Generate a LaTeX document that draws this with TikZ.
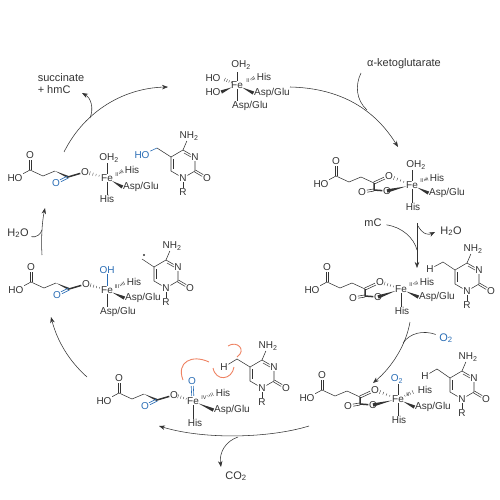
\documentclass[tikz,border=0pt]{standalone}
\usepackage{fontspec}
\setmainfont{Liberation Sans}
\usetikzlibrary{arrows.meta,calc}
\definecolor{ink}{HTML}{333333}
\definecolor{oxo}{HTML}{2A6DB5}
\definecolor{push}{HTML}{EE8262}
\tikzset{
  atom/.style={inner sep=0.6pt,text=ink,font=\fontsize{10}{10}\selectfont},
  blueatom/.style={atom,text=oxo},
  lbl/.style={inner sep=0.6pt,text=ink,font=\fontsize{11}{11}\selectfont},
  ox/.style={inner sep=0pt,text=ink,font=\fontsize{5.5}{5.5}\selectfont},
  bnd/.style={draw=ink,line width=0.55pt},
  bluebnd/.style={draw=oxo,line width=0.6pt},
  hash/.style={draw=ink,line width=0.35pt},
  bold/.style={draw=ink,line width=1.5pt},
  fl/.style={-{Stealth[length=6pt,width=4.5pt]},draw=ink,line width=0.55pt},
  br/.style={draw=ink,line width=0.55pt},
  pushfl/.style={draw=push,line width=0.9pt},
}
\newcommand{\hashb}[2]{%
  \foreach \t in {0.36,0.5,0.64,0.78}{
    \pgfmathsetmacro\hw{\t*2.4}
    \draw[hash] ($(#1)!\t!(#2)!\hw pt!90:(#2)$) -- ($(#1)!\t!(#2)!\hw pt!-90:(#2)$);
  }}
\newcommand{\wedgeb}[2]{\fill[ink] ($(#1)!6pt!(#2)$) -- ($(#2)!1.7pt!90:(#1)$) -- ($(#2)!1.7pt!-90:(#1)$) -- cycle;}
% C=O, the far end sits in an atom label
\newcommand{\dblb}[3][bnd]{%
  \draw[#1,shorten >=5pt] ($(#2)!1.05pt!90:(#3)$) -- ($(#3)!1.05pt!-90:(#2)$);
  \draw[#1,shorten >=5pt] ($(#2)!1.05pt!-90:(#3)$) -- ($(#3)!1.05pt!90:(#2)$);}
\newcommand{\succarm}[2]{%
  \begin{scope}[shift={(#2)}]
    \node[atom] (#1ho) at (-15,8) {HO};
    \node[atom] (#1oa) at (0,-15) {O};
    \coordinate (#1ca) at (0,0);
    \coordinate (#1cb) at (13,6);
    \coordinate (#1cc) at (25,1);
    \coordinate (#1cd) at (38,7);
    \draw[bnd] (#1ho)--(#1ca)--(#1cb)--(#1cc);
    \dblb{#1ca}{#1oa}
  \end{scope}}
% keto end, blue C=O
\newcommand{\ketoend}[2]{%
  \begin{scope}[shift={(#2)}]
    \node[blueatom] (#1ok) at (26,13) {O};
    \node[atom] (#1ob) at (55,2) {O};
    \fill[ink] (#1cc) -- ($(#1cd)!1.1pt!90:(#1cc)$) -- ($(#1cd)!1.1pt!-90:(#1cc)$) -- cycle;
    \draw[bold] (#1cd)--(#1ob);
    \dblb[bluebnd]{#1cd}{#1ok}
  \end{scope}}
% chelating carboxylate end
\newcommand{\chelend}[2]{%
  \begin{scope}[shift={(#2)}]
    \node[atom] (#1ob) at (53,0) {O};
    \coordinate (#1ce) at (38,14);
    \node[atom] (#1ox) at (26,16) {O};
    \node[atom] (#1oc) at (51,15) {O};
    \draw[bnd] (#1cc)--(#1cd);
    \dblb{#1cd}{#1ob}
    \draw[bold] (#1cd)--(#1ce)--(#1oc);
    \dblb{#1ce}{#1ox}
  \end{scope}}
\newcommand{\cytosine}[2]{%
  \begin{scope}[shift={(#2)}]
    \coordinate (#1cv) at (0,0);
    \coordinate (#1cs) at (0,14);
    \node[atom] (#1na) at (12,21) {N};
    \coordinate (#1cw) at (24,14);
    \node[atom] (#1oy) at (36,21) {O};
    \node[atom] (#1nb) at (24,0) {N};
    \coordinate (#1cu) at (12,-7);
    \node[atom] (#1nh) at (18,-21) {NH\textsubscript{2}};
    \node[atom] (#1rr) at (12,35) {R};
    \draw[bnd] (#1cv)--(#1cs)--(#1na)--(#1cw)--(#1nb)--(#1cu)--(#1cv);
    \draw[bnd] (#1na)--(#1rr);
    \draw[bnd] (#1cu)--(#1nh);
    \dblb{#1cw}{#1oy}
    \draw[bnd] (2,2)--(2,12);
    \draw[bnd] (13,-4)--(20,0);
  \end{scope}}
\begin{document}
\begin{tikzpicture}[x=1pt,y=-1pt]
\useasboundingbox (0,0) rectangle (500,500);
% top
\node[atom] (afe) at (237,85) {Fe};
\node[ox] (aox) at (248,81) {II};
\node[atom] (aow) at (241,65) {OH\textsubscript{2}};
\node[atom] (aho) at (213,78) {HO};
\node[atom] (ahp) at (213,92) {HO};
\node[atom] (ahis) at (264,77) {His};
\node[atom] (aag) at (272,93) {Asp/Glu};
\node[atom] (aah) at (250,106) {Asp/Glu};
\draw[bnd] (afe)--(237,72);
\draw[bnd] (afe)--(aah.north-|afe);
\hashb{afe}{aho.east}
\wedgeb{afe}{ahp.east}
\hashb{aox}{ahis.west}
\wedgeb{afe}{aag.west}
% top right
\succarm{b}{336,176}
\chelend{b}{336,176}
\node[atom] (bfe) at (412,185) {Fe};
\node[ox] (box) at (422,181) {II};
\node[atom] (bow) at (416,165) {OH\textsubscript{2}};
\node[atom] (bhis) at (437,178) {His};
\node[atom] (bag) at (447,193) {Asp/Glu};
\node[atom] (bhi) at (413,207) {His};
\draw[bnd] (bfe)--(bfe|-bow.south);
\draw[bnd] (bfe)--(bfe|-bhi.north);
\hashb{bfe}{bob}
\wedgeb{bfe}{boc}
\hashb{box}{bhis.west}
\wedgeb{bfe}{bag.west}
% middle right
\succarm{c}{327,282}
\chelend{c}{327,282}
\node[atom] (cfe) at (401,289) {Fe};
\node[ox] (cox) at (411,285) {II};
\node[atom] (chis) at (427,282) {His};
\node[atom] (cag) at (437,297) {Asp/Glu};
\node[atom] (chi) at (402,311) {His};
\draw[bnd] (cfe)--(cfe|-chi.north);
\hashb{cfe}{cob}
\wedgeb{cfe}{coc}
\hashb{cox}{chis.west}
\wedgeb{cfe}{cag.west}
\cytosine{c}{455,270}
\node[atom] (chh) at (430,269) {H};
\coordinate (cch) at (443,262);
\draw[bnd] (chh)--(cch)--(ccv);
% lower right
\succarm{d}{322,390}
\chelend{d}{322,390}
\node[atom] (dfe) at (398,399) {Fe};
\node[ox] (dox) at (408,395) {II};
\node[blueatom] (dod) at (397,379) {O\textsubscript{2}};
\node[atom] (dhis) at (425,390) {His};
\node[atom] (dag) at (433,407) {Asp/Glu};
\node[atom] (dhi) at (399,420) {His};
\draw[bnd] (dfe)--(dfe|-dod.south);
\draw[bnd] (dfe)--(dfe|-dhi.north);
\hashb{dfe}{dob}
\wedgeb{dfe}{doc}
\hashb{dfe}{dhis.west}
\wedgeb{dfe}{dag.west}
\cytosine{d}{450,378}
\node[atom] (dhh) at (425,376) {H};
\coordinate (dch) at (437,369);
\draw[bnd] (dhh)--(dch)--(dcv);
% bottom
\succarm{e}{119,393}
\ketoend{e}{119,393}
\node[atom] (efe) at (193,401) {Fe};
\node[ox] (eox) at (204,398) {IV};
\node[blueatom] (eod) at (192,381) {O};
\node[atom] (ehis) at (223,393) {His};
\node[atom] (eag) at (232,410) {Asp/Glu};
\node[atom] (ehi) at (195,423) {His};
\dblb[bluebnd,shorten <=5pt]{efe}{eod}
\draw[bnd] (efe)--(efe|-ehi.north);
\hashb{efe}{eob}
\hashb{eox}{ehis.west}
\wedgeb{efe}{eag.west}
\cytosine{e}{250,367}
\node[atom] (ehh) at (224,367) {H};
\coordinate (ech) at (237,359);
\draw[bnd] (ehh)--(ech)--(ecv);
\coordinate (pa) at (183,380);
\coordinate (pb) at (209,362);
\coordinate (pc) at (213,368);
\coordinate (pd) at (234,367);
\coordinate (pe) at (228,346);
\coordinate (pf) at (237,357);
\draw[pushfl] (pa) .. controls (176,362) and (192,354) .. (pb);
\draw[pushfl] (pc) .. controls (216,382) and (232,380) .. (pd);
\draw[pushfl] (pe) .. controls (237,340) and (247,350) .. (pf);
% middle left
\succarm{f}{31,282}
\ketoend{f}{31,282}
\node[atom] (ffe) at (107,290) {Fe};
\node[ox] (fox) at (117,287) {III};
\node[blueatom] (fod) at (107,270) {OH};
\node[atom] (fhis) at (134,282) {His};
\node[atom] (fag) at (143,298) {Asp/Glu};
\node[atom] (fah) at (118,312) {Asp/Glu};
\draw[bluebnd] (ffe)--(ffe|-fod.south);
\draw[bnd] (ffe)--(ffe|-fah.north);
\hashb{ffe}{fob}
\hashb{fox}{fhis.west}
\wedgeb{ffe}{fag.west}
\cytosine{f}{154,267}
\node[circle,fill=ink,inner sep=0pt,minimum size=2.4pt] (fdot) at (144,255) {};
\coordinate (fch) at (142,259);
\draw[bnd] (fch)--(fcv);
% upper left
\succarm{g}{30,170}
\ketoend{g}{30,170}
\node[atom] (gfe) at (107,178) {Fe};
\node[ox] (gox) at (117,175) {II};
\node[atom] (gow) at (109,158) {OH\textsubscript{2}};
\node[atom] (ghis) at (132,170) {His};
\node[atom] (gag) at (141,187) {Asp/Glu};
\node[atom] (ghi) at (107,199) {His};
\draw[bnd] (gfe)--(gfe|-gow.south);
\draw[bnd] (gfe)--(gfe|-ghi.north);
\hashb{gfe}{gob}
\hashb{gox}{ghis.west}
\wedgeb{gfe}{gag.west}
\cytosine{g}{171,157}
\node[blueatom] (gho) at (142,155) {HO};
\coordinate (gch) at (157,148);
\draw[bluebnd] (gho)--(gch);
\draw[bnd] (gch)--(gcv);
% labels
\node[lbl,align=left] (succ) at (61,84) {succinate\\[1pt]+ hmC};
\node[lbl] (akg) at (404,64) {α-ketoglutarate};
\node[lbl] (mc) at (373,223) {mC};
\node[lbl] (wat) at (451,231) {H\textsubscript{2}O};
\node[lbl,text=oxo] (dio) at (446,338) {O\textsubscript{2}};
\node[lbl] (coo) at (236,476) {CO\textsubscript{2}};
\node[lbl] (wau) at (18,233) {H\textsubscript{2}O};
% cycle
\coordinate (s1) at (64,152); \coordinate (t1) at (168,87);
\coordinate (j1) at (90,118); \coordinate (e1) at (82,93);
\draw[fl] (s1) .. controls (85,110) and (125,88) .. (t1);
\draw[fl] (j1) .. controls (94,108) and (91,98) .. (e1);
\coordinate (s2) at (290,87); \coordinate (t2) at (398,147);
\coordinate (j2) at (367,110); \coordinate (e2) at (361,73);
\draw[fl] (s2) .. controls (335,88) and (372,105) .. (t2);
\draw[br] (e2) .. controls (355,85) and (356,100) .. (j2);
\coordinate (s3) at (417,223); \coordinate (t3) at (417,268);
\coordinate (j3) at (417,250);
\coordinate (j4) at (418,226); \coordinate (e3) at (435,232);
\draw[fl] (s3)--(t3);
\draw[br,shorten <=4pt] (mc) .. controls (402,227) and (414,238) .. (j3);
\draw[fl] (j4) .. controls (423,235) and (429,235) .. (e3);
\coordinate (s4) at (410,322); \coordinate (t4) at (373,383);
\coordinate (j5) at (403,343);
\draw[fl] (s4) .. controls (406,345) and (392,367) .. (t4);
\draw[br,shorten <=3pt] (dio) .. controls (423,330) and (410,333) .. (j5);
\coordinate (s5) at (309,426); \coordinate (t5) at (159,426);
\coordinate (j6) at (238,437); \coordinate (e5) at (221,467);
\draw[fl] (s5) .. controls (270,438) and (205,440) .. (t5);
\draw[fl] (j6) .. controls (226,441) and (219,452) .. (e5);
\coordinate (s6) at (87,377); \coordinate (t6) at (51,317);
\draw[fl] (s6) .. controls (68,360) and (57,340) .. (t6);
\coordinate (s7) at (42,255); \coordinate (t7) at (45,208);
\coordinate (j7) at (42,230);
\draw[fl] (s7) .. controls (41,240) and (42,222) .. (t7);
\draw[br,shorten <=2pt] (wau) .. controls (36,238) and (41,234) .. (j7);
\end{tikzpicture}
\end{document}
